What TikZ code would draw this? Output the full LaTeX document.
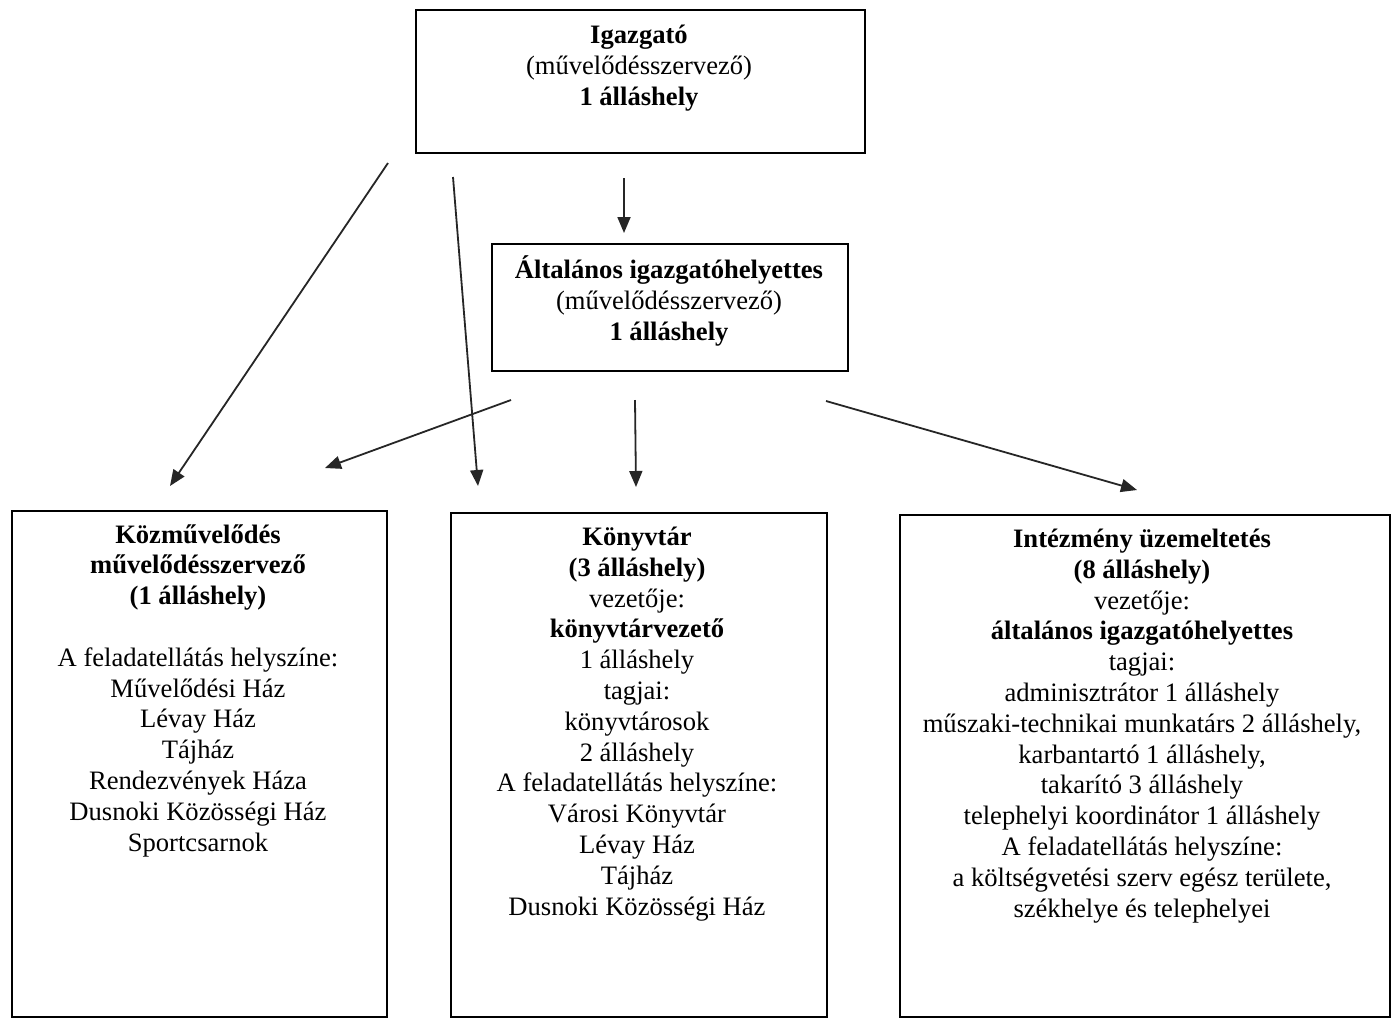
\documentclass[tikz,border=0pt]{standalone}
\usepackage{fontspec}
\setmainfont{Liberation Serif}
\usetikzlibrary{arrows.meta}
\begin{document}
\begin{tikzpicture}[x=0.5pt,y=-0.5pt,
  box/.style={draw, line width=1pt, inner sep=0pt, anchor=north west},
  txt/.style={align=center, font=\fontsize{13.3}{15.4}\selectfont, inner sep=0pt, anchor=base},
  arr/.style={-{Triangle[length=8pt,width=6.5pt]}, line width=0.9pt, draw=black!85}]
\useasboundingbox[fill=white] (0,0) rectangle (1392,1018);
% boxes
\node[box, minimum width=224.5pt, minimum height=71.5pt] (top) at (415,9) {};
\node[box, minimum width=178pt, minimum height=63.5pt] (mid) at (491,243) {};
\node[box, minimum width=187.5pt, minimum height=253pt] (left) at (11,510) {};
\node[box, minimum width=188pt, minimum height=252pt] (center) at (450,512) {};
\node[box, minimum width=245pt, minimum height=251pt] (right) at (899,514) {};
% texts (anchor = baseline of last line)
\node[txt] (toptxt) at (639,105) {\textbf{Igazgató}\\(művelődésszervező)\\\textbf{1 álláshely}};
\node[txt] (midtxt) at (669,340) {\textbf{Általános igazgatóhelyettes}\\(művelődésszervező)\\\textbf{1 álláshely}};
\node[txt] (lefttxt) at (198,851) {\textbf{Közművelődés}\\\textbf{művelődésszervező}\\\textbf{(1 álláshely)}\\[15.4pt]A feladatellátás helyszíne:\\Művelődési Ház\\Lévay Ház\\Tájház\\Rendezvények Háza\\Dusnoki Közösségi Ház\\Sportcsarnok};
\node[txt] (centertxt) at (637,915) {\textbf{Könyvtár}\\\textbf{(3 álláshely)}\\vezetője:\\\textbf{könyvtárvezető}\\1 álláshely\\tagjai:\\könyvtárosok\\2 álláshely\\A feladatellátás helyszíne:\\Városi Könyvtár\\Lévay Ház\\Tájház\\Dusnoki Közösségi Ház};
\node[txt] (righttxt) at (1142,917) {\textbf{Intézmény üzemeltetés}\\\textbf{(8 álláshely)}\\vezetője:\\\textbf{általános igazgatóhelyettes}\\tagjai:\\adminisztrátor 1 álláshely\\műszaki-technikai munkatárs 2 álláshely,\\karbantartó 1 álláshely,\\takarító 3 álláshely\\telephelyi koordinátor 1 álláshely\\A feladatellátás helyszíne:\\a költségvetési szerv egész területe,\\székhelye és telephelyei};
% arrow end points
\coordinate (a1s) at (388,163); \coordinate (a1e) at (170,486);
\coordinate (a2s) at (453,177); \coordinate (a2e) at (478,486);
\coordinate (a3s) at (624,178); \coordinate (a3e) at (624,233);
\coordinate (a4s) at (511,400); \coordinate (a4e) at (325,468);
\coordinate (a5s) at (635,400); \coordinate (a5e) at (636,487);
\coordinate (a6s) at (826,401); \coordinate (a6e) at (1137,490);
\draw[arr] (a1s) -- (a1e);
\draw[arr] (a2s) -- (a2e);
\draw[arr] (a3s) -- (a3e);
\draw[arr] (a4s) -- (a4e);
\draw[arr] (a5s) -- (a5e);
\draw[arr] (a6s) -- (a6e);
\end{tikzpicture}
\end{document}
